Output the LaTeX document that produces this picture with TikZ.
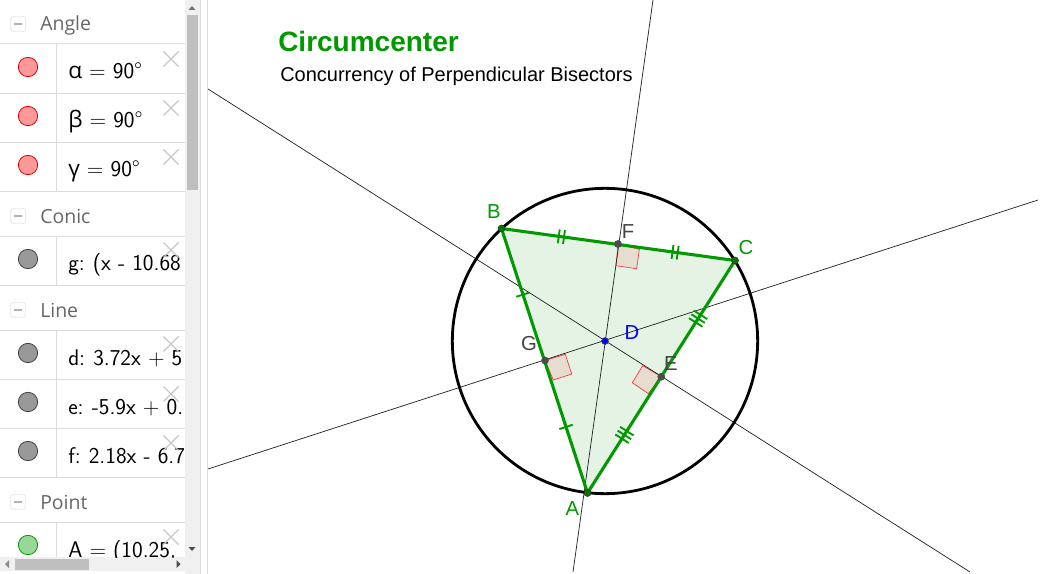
\documentclass[tikz,border=0pt]{standalone}
\usepackage{fontspec}
\setmainfont{Liberation Sans}
\newfontfamily\hdfont{Open Sans}
\newfontfamily\gkfont{Open Sans}
\usetikzlibrary{calc}
\definecolor{ggreen}{HTML}{009900}
\definecolor{hdgray}{HTML}{666666}
\definecolor{rulegray}{HTML}{DCDCDC}
\definecolor{stripgray}{HTML}{F0F0F0}
\definecolor{tri}{HTML}{E5F3E5}
\definecolor{sq}{HTML}{E6DCCF}
\definecolor{lblgray}{HTML}{444444}
\tikzset{
  x=0.75pt,y=-0.75pt,
  panelrule/.style={draw=rulegray,line width=0.75pt},
  hdr/.style={anchor=base west,inner sep=0pt,text=hdgray,font=\hdfont\fontsize{14.6}{16}\selectfont},
  itemtxt/.style={anchor=base west,inner sep=0pt,text=black,font=\sffamily\fontsize{17}{19}\selectfont},
  minusbox/.style={draw=rulegray!70,line width=0.6pt,rounded corners=1.5pt,minimum size=11pt,inner sep=0pt},
  reddot/.style={circle,draw=red!85!black,fill=red!40!white,line width=0.6pt,minimum size=14.5pt,inner sep=0pt},
  graydot/.style={circle,draw=black!75,fill=black!40,line width=0.6pt,minimum size=14.5pt,inner sep=0pt},
  greendot/.style={circle,draw=ggreen,fill=ggreen!40!white,line width=0.6pt,minimum size=14.5pt,inner sep=0pt},
  closex/.style={draw=black!22,line width=1pt},
  geoline/.style={draw=black!85,line width=0.55pt},
  rightmark/.style={draw=red!85,fill=sq,line width=0.45pt},
  sideline/.style={draw=ggreen,line width=2.3pt},
  tickmark/.style={draw=ggreen,line width=1.4pt},
  ptg/.style={circle,draw=black!80,fill=ggreen!80!black,line width=0.5pt,minimum size=5.2pt,inner sep=0pt},
  ptb/.style={circle,draw=black!70,fill=blue,line width=0.5pt,minimum size=5.2pt,inner sep=0pt},
  ptd/.style={circle,draw=black!70,fill=black!70,line width=0.5pt,minimum size=5.2pt,inner sep=0pt},
  ptlabel/.style={inner sep=0pt,font=\fontsize{15.2}{17}\selectfont},
}
% centre x, centre y, half-length vector x, y
\newcommand{\hashmark}[4]{%
  \draw[tickmark] (#1-#3,#2-#4) -- (#1+#3,#2+#4);}
\newcommand{\closemark}[2]{%
  \draw[closex] (#1-7.5,#2-7.5) -- (#1+7.5,#2+7.5) (#1-7.5,#2+7.5) -- (#1+7.5,#2-7.5);}
\begin{document}
\begin{tikzpicture}
\useasboundingbox (0,0) rectangle (1040,574);
\fill[white] (0,0) rectangle (1040,574);
% geometry
\coordinate (A) at (587.5,493);
\coordinate (B) at (501.5,228.5);
\coordinate (C) at (735,260.5);
\coordinate (D) at (605,341);
\coordinate (E) at (661.3,376.7);
\coordinate (F) at (618,244);
\coordinate (G) at (545,360.5);
\coordinate (ftop) at (653,0);
\coordinate (fbot) at (573,572);
\coordinate (gl) at (208,469);
\coordinate (gr) at (1038,200);
\coordinate (el) at (208,89);
\coordinate (er) at (970,572);
\fill[tri] (A) -- (B) -- (C) -- cycle;
\draw[rightmark] (F) -- (639.3,249.3) -- (636.7,268.7) -- (616,265.7) -- cycle;
\draw[rightmark] (G) -- (565.3,354.3) -- (571.7,374) -- (553.3,380) -- cycle;
\draw[rightmark] (E) -- (642.7,365.7) -- (632.3,382.7) -- (648.3,393.7) -- cycle;
\draw[geoline] (ftop) -- (fbot);
\draw[geoline] (gl) -- (gr);
\draw[geoline] (el) -- (er);
\draw[black,line width=2.1pt] (D) circle[radius=114.5pt];
\draw[sideline,line join=round] (A) -- (B) -- (C) -- cycle;
% AB: single
\hashmark{523}{294.6}{6.66}{-2.16}
\hashmark{566}{426.9}{6.66}{-2.16}
% BC: double
\hashmark{558.8}{236.35}{-0.95}{6.9}
\hashmark{564.0}{237.05}{-0.95}{6.9}
\hashmark{672.5}{251.95}{-0.95}{6.9}
\hashmark{677.7}{252.65}{-0.95}{6.9}
% CA: triple
\hashmark{622.0}{438.7}{6.75}{4.29}
\hashmark{624.4}{434.9}{6.75}{4.29}
\hashmark{626.8}{431.1}{6.75}{4.29}
\hashmark{695.7}{322.4}{6.75}{4.29}
\hashmark{698.1}{318.6}{6.75}{4.29}
\hashmark{700.5}{314.8}{6.75}{4.29}
\node[ptg] (pA) at (A) {};
\node[ptg] (pB) at (B) {};
\node[ptg] (pC) at (C) {};
\node[ptb] (pD) at (D) {};
\node[ptd] (pE) at (E) {};
\node[ptd] (pF) at (F) {};
\node[ptd] (pG) at (G) {};
\node[ptlabel,text=ggreen] (lA) at (572.5,509) {A};
\node[ptlabel,text=ggreen] (lB) at (494,212) {B};
\node[ptlabel,text=ggreen] (lC) at (746,248) {C};
\node[ptlabel,text=blue] (lD) at (632,333) {D};
\node[ptlabel,text=lblgray] (lE) at (671,364) {E};
\node[ptlabel,text=lblgray] (lF) at (628,232) {F};
\node[ptlabel,text=lblgray] (lG) at (529,344) {G};
\node[anchor=west,inner sep=0pt,text=ggreen,font=\bfseries\fontsize{21}{23}\selectfont] (title) at (278,41.5) {Circumcenter};
\node[anchor=west,inner sep=0pt,text=black,font=\fontsize{15}{17}\selectfont] (subtitle) at (280,76) {Concurrency of Perpendicular Bisectors};
% panel
\fill[white] (0,0) rectangle (207.5,574);
\draw[draw=rulegray,line width=0.6pt] (207.5,0) -- (207.5,574);
\draw[draw=rulegray,line width=0.6pt] (200.5,0) -- (200.5,574);
\fill[stripgray] (185,0) rectangle (200,574);
\fill[stripgray] (0,557) rectangle (200,571);
\fill[black!25] (186.5,15) rectangle (198,190);
\fill[black!25] (15,559) rectangle (89,570);
\fill[black!55] (188.5,10) -- (195.5,10) -- (192,6) -- cycle;
\fill[black!70] (188.5,547) -- (195.5,547) -- (192,551) -- cycle;
\fill[black!45] (5,564) -- (9,560) -- (9,568) -- cycle;
\fill[black!70] (180.5,564) -- (176.5,560) -- (176.5,568) -- cycle;
\foreach \yy in {44,93.5,142.5,191.5,236.7,285.5,330.5,379.5,428.5,477,522.5}
  \draw[panelrule] (0,\yy) -- (185,\yy);
\foreach \ya/\yb in {44/191.5,236.7/285.5,330.5/477,522.5/557}
  \draw[panelrule] (56.5,\ya) -- (56.5,\yb);
\foreach \yy in {24,216,310,502} {
  \node[minusbox] at (18,\yy) {};
  \draw[draw=black!30,line width=0.8pt] (14,\yy) -- (22,\yy);
}
\node[hdr] (hAngle) at (40,31) {Angle};
\node[hdr] (hConic) at (40,223.5) {Conic};
\node[hdr] (hLine) at (40,317.5) {Line};
\node[hdr] (hPoint) at (40,509.5) {Point};
\node[reddot] (d1) at (28,67) {};
\node[reddot] (d2) at (28,116) {};
\node[reddot] (d3) at (28,165) {};
\node[graydot] (d4) at (28,259) {};
\node[graydot] (d5) at (28,353) {};
\node[graydot] (d6) at (28,402) {};
\node[graydot] (d7) at (28,451) {};
\node[greendot] (d8) at (28,545) {};
\begin{scope}
\clip (57,0) rectangle (185,557);
\node[itemtxt] (t1) at (68,78.5) {{\gkfont α} = 90°};
\node[itemtxt] (t2) at (68,127.5) {{\gkfont β} = 90°};
\node[itemtxt] (t3) at (68,176.5) {{\gkfont γ} = 90°};
\node[itemtxt] (t4) at (68,271) {g:\hspace{-1pt} (x - 10.68};
\node[itemtxt] (t5) at (68,365) {d:\hspace{-1pt} 3.72x + 5};
\node[itemtxt] (t6) at (68,414) {e:\hspace{-1pt} -5.9x + 0.};
\node[itemtxt] (t7) at (68,463) {f:\hspace{-1pt} 2.18x - 6.7};
\node[itemtxt] (t8) at (68,557) {A = (10.25,};
\end{scope}
\closemark{171}{59}
\closemark{171}{108}
\closemark{171}{157}
\closemark{171}{250}
\closemark{171}{344}
\closemark{171}{394}
\closemark{171}{443}
\closemark{171}{537}
\end{tikzpicture}
\end{document}
